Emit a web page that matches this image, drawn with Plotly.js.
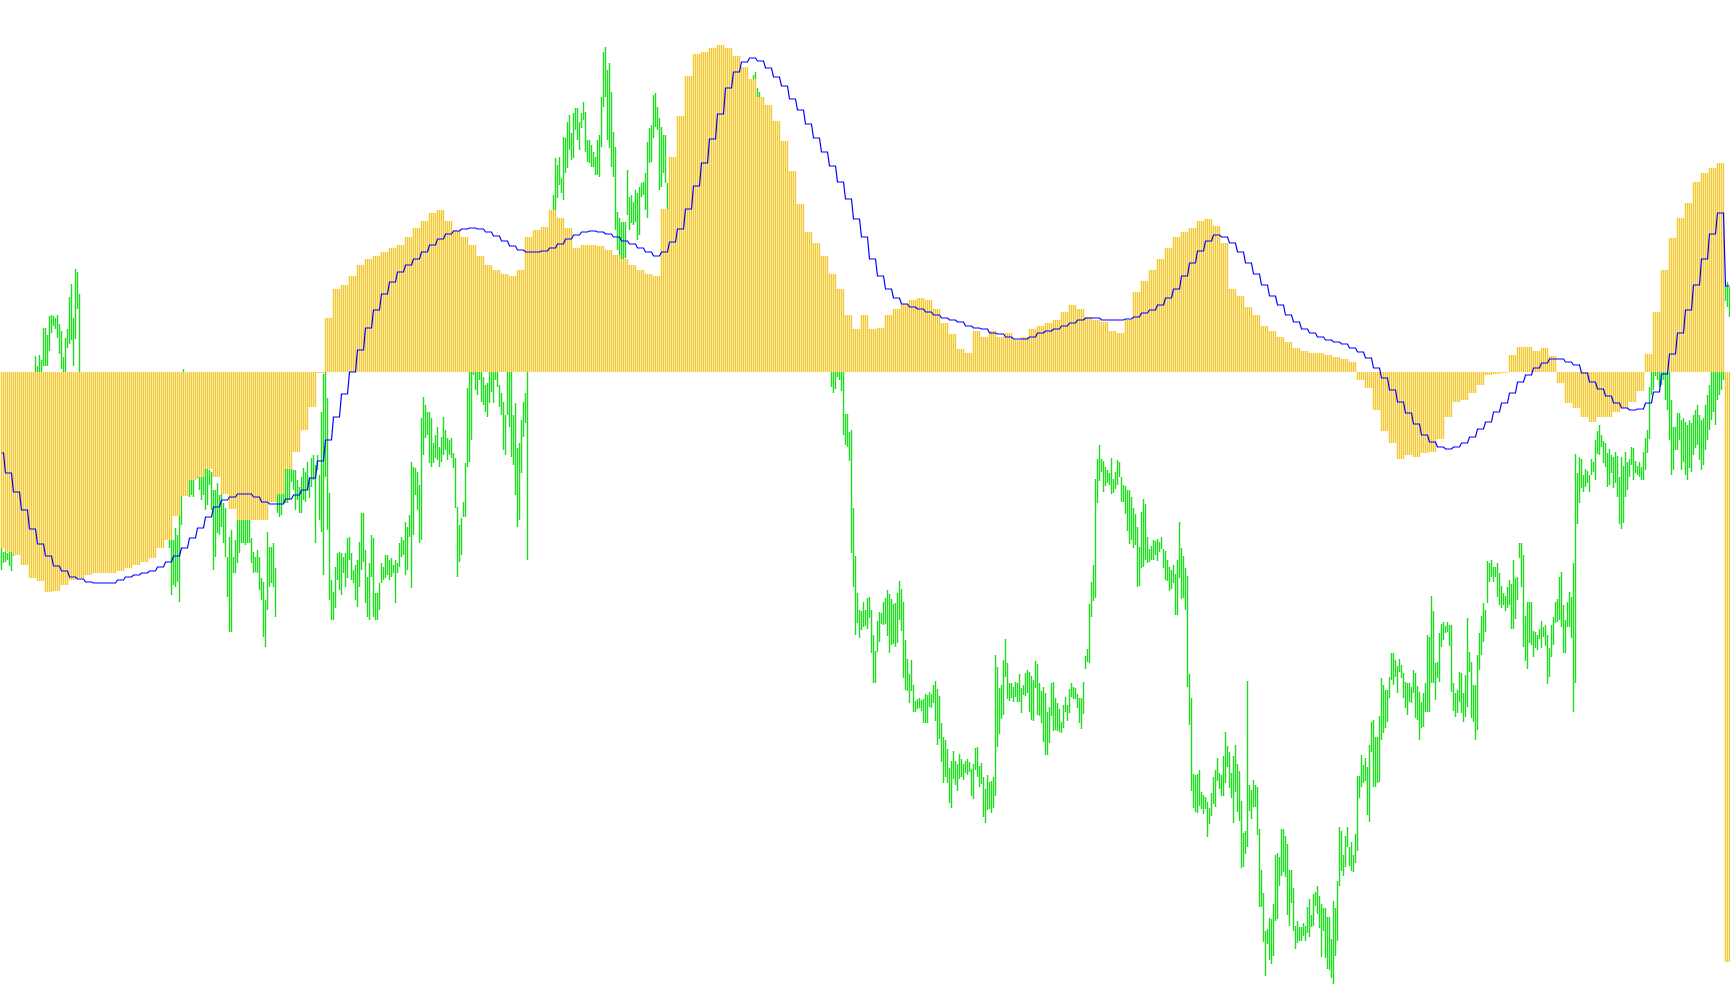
<!DOCTYPE html>
<html>
<head>
<meta charset="utf-8">
<script src="https://cdn.plot.ly/plotly-3.0.1.min.js"></script>
<style>html,body{margin:0;padding:0;background:#fff;}#chart{width:1730px;height:1005px;}</style>
</head>
<body>
<div id="chart"></div>
<script>
// Indicator computed on a 4x higher timeframe: one value per group of 4 bars.
// Group g covers bars 4g-2 .. 4g+1 (first group holds bars 0-1).
const BARS_PER_GROUP = 4;
const histGroups = [
-176,-180,-183,-193,-206,-209,-220,-219,-213,-208,
-206,-203,-201,-201,-201,-199,-196,-193,-190,-186,
-176,-168,-144,-124,-108,-105,-97,-105,-122,-137,
-148,-148,-148,-148,-130,-122,-97,-80,-58,-35,
-1,54,83,87,96,107,113,116,120,124,
127,135,144,151,159,162,151,142,135,127,
116,107,102,98,96,102,135,142,145,162,
154,144,124,127,127,126,122,117,113,107,
102,98,96,163,215,256,296,318,320,324,
327,324,316,305,293,275,267,251,231,201,
168,140,129,116,98,83,57,43,57,43,
44,57,63,68,72,74,72,63,49,38,
23,19,41,35,41,35,39,32,35,43,
46,49,52,60,67,63,55,52,50,41,
39,52,80,91,102,113,124,135,140,144,
151,153,146,129,83,76,65,57,46,41,
35,30,24,21,19,19,17,15,13,10,
-8,-16,-38,-59,-71,-87,-83,-85,-81,-80,
-67,-45,-30,-28,-21,-13,-3,-2,-1,17,
25,25,21,24,16,-11,-31,-36,-45,-50,
-45,-45,-40,-36,-30,-19,18,60,102,134,
154,169,190,199,204,209,-590
];
const signalGroups = [
-81,-101,-120,-138,-157,-172,-184,-194,-199,-205,
-207,-210,-211,-211,-211,-208,-205,-203,-201,-199,
-195,-190,-184,-176,-166,-156,-145,-135,-128,-125,
-122,-122,-125,-130,-132,-132,-127,-123,-118,-106,
-89,-68,-45,-22,0,22,44,62,78,90,
100,107,113,120,127,133,138,141,143,144,
143,140,136,131,126,122,120,120,121,124,
128,133,137,140,141,140,138,135,131,128,
124,120,116,120,130,143,163,186,209,233,
258,284,300,310,314,311,304,295,286,273,
262,248,234,220,206,190,173,153,135,113,
96,83,74,68,65,63,60,57,54,52,
50,46,44,43,39,38,35,33,33,35,
39,41,43,46,49,52,54,54,52,52,
52,53,55,59,62,67,74,83,96,109,
121,131,137,135,129,120,109,98,87,76,
67,57,50,43,39,35,32,30,28,24,
20,14,4,-6,-18,-30,-41,-52,-63,-70,
-75,-77,-75,-71,-65,-57,-50,-40,-31,-21,
-10,-3,4,9,13,13,10,7,-1,-10,
-17,-24,-31,-36,-38,-37,-31,-20,-2,18,
39,62,87,113,138,159,86
];
// Price bars (high / low), one per bar
const priceHigh = [
457,448,449,447,448,448,480,495,505,520,
530,545,560,575,590,605,620,644,634,645,
640,672,672,665,684,685,684,682,685,676,
669,643,662,671,703,716,682,731,728,706,
625,615,610,600,605,595,590,580,585,575,
570,560,565,555,550,545,552,540,535,530,
538,530,522,515,520,512,508,502,505,500,
495,490,495,488,485,480,485,482,488,492,
490,485,495,500,470,472,460,472,465,503,
504,631,580,570,530,525,530,550,540,535,
540,530,545,535,530,528,510,510,517,505,
507,497,492,443,463,470,443,460,490,495,
492,488,490,485,482,462,448,443,450,443,
422,418,400,468,453,453,457,432,515,512,
518,518,537,532,537,533,530,530,520,513,
523,532,528,538,523,542,545,535,545,525,
588,626,660,602,507,420,408,433,447,448,
447,443,447,462,463,447,430,435,440,458,
487,487,450,423,437,465,462,407,407,417,
437,433,445,445,440,442,435,440,437,457,
463,460,478,473,485,538,533,532,528,515,
582,603,595,588,588,582,557,565,573,553,
563,583,570,562,560,562,547,542,493,475,
482,498,537,612,650,655,660,655,665,660,
662,623,615,617,640,645,650,655,650,615,
607,598,585,645,650,655,585,597,552,557,
580,598,607,670,700,715,730,740,745,750,
755,760,765,768,770,770,805,842,835,843,
822,863,862,878,885,867,887,892,892,878,
887,898,888,860,860,855,848,843,860,865,
903,948,953,930,937,908,868,853,788,782,
778,778,778,830,803,805,798,810,807,813,
817,818,827,858,872,875,905,907,893,882,
873,865,865,817,825,830,835,838,850,860,
870,875,880,890,900,905,910,915,920,922,
925,928,930,932,935,938,940,942,940,938,
942,945,940,935,938,934,930,932,928,925,
922,920,918,915,912,916,925,928,912,908,
900,895,890,880,875,870,865,860,850,845,
840,830,825,815,810,800,795,785,780,775,
765,760,755,750,742,738,735,730,728,722,
720,715,710,705,700,670,665,660,655,650,
648,640,586,586,568,570,492,444,407,390,
389,398,390,402,403,390,365,349,379,388,
387,398,402,410,406,401,396,397,407,419,
411,398,360,341,326,340,315,299,301,302,
300,301,306,305,308,306,315,319,311,304,
277,263,260,251,232,239,249,239,236,246,
241,236,239,241,238,231,236,252,253,234,
237,223,211,225,218,219,223,345,333,312,
315,340,361,337,317,317,313,318,317,326,
312,315,327,330,328,324,320,339,336,317,
309,313,307,288,293,317,318,302,297,291,
278,295,303,295,311,317,313,312,306,302,
302,318,344,351,396,418,435,521,541,555,
541,539,533,530,527,542,521,528,540,538,
523,515,514,510,510,503,492,486,473,453,
488,501,496,463,451,454,460,459,461,458,
463,451,449,440,433,430,435,426,440,478,
452,444,432,424,326,302,226,225,226,230,
208,205,203,198,192,207,223,230,242,227,
225,244,268,254,248,227,244,255,236,229,
199,167,169,319,215,210,220,215,213,171,
130,107,69,71,82,81,96,145,147,143,
171,171,164,156,130,130,112,74,79,73,
73,77,74,93,101,85,106,108,114,104,
96,92,92,83,83,61,99,92,119,173,
169,145,164,173,153,158,145,166,224,224,
245,235,242,233,255,278,280,263,263,284,
322,315,310,310,323,347,347,340,334,341,
335,327,318,317,317,313,330,327,314,308,
298,307,317,365,363,404,389,337,338,367,
376,378,374,378,375,375,317,307,310,328,
327,307,325,382,348,338,315,315,345,367,
384,397,390,439,437,440,433,433,437,427,
414,407,404,413,420,416,440,422,423,457,
457,445,384,398,398,398,369,368,365,371,
379,373,375,365,352,375,383,398,401,423,
428,395,380,398,408,403,437,546,527,543,
541,525,531,529,525,541,538,560,569,575,
565,559,557,547,551,545,543,548,544,523,
543,534,548,538,541,553,552,539,534,538,
533,548,562,570,613,640,650,655,660,655,
670,680,670,655,640,600,573,573,587,587,
580,582,578,575,580,577,585,590,595,585,
580,582,595,605,615,640,650,645,660,670,
680,700,714,718,713
];
const priceLow = [
430,437,438,440,434,429,444,455,470,480,
485,500,510,530,545,560,580,615,605,610,
620,634,634,634,649,667,674,671,662,646,
631,620,622,652,656,660,634,661,691,620,
580,570,560,555,550,545,535,530,538,522,
515,510,518,505,500,495,502,490,485,480,
488,475,470,465,472,462,455,450,455,448,
445,440,445,438,445,444,455,454,460,462,
455,454,462,464,452,405,415,413,418,398,
475,520,510,508,503,505,503,522,522,510,
500,505,490,495,515,490,430,443,467,465,
473,457,443,403,368,368,427,427,437,447,
457,457,455,457,457,437,427,428,427,410,
400,363,353,390,413,417,413,383,487,483,
485,497,497,497,500,518,510,490,500,487,
487,500,498,510,502,513,520,457,530,480,
468,425,523,470,400,380,380,392,420,410,
405,427,413,422,440,420,417,400,393,413,
430,438,397,383,380,423,383,380,380,390,
417,420,422,425,420,423,427,397,427,433,
443,445,425,430,463,412,465,505,490,457,
460,545,562,565,537,533,537,542,540,533,
538,545,550,540,545,542,532,492,423,438,
445,483,483,533,538,560,625,610,605,620,
598,595,588,583,597,608,597,620,613,593,
585,550,545,585,573,543,535,505,473,480,
527,563,577,440,640,655,670,680,690,700,
710,715,720,730,738,745,760,775,802,815,
807,800,827,832,850,840,842,870,860,850,
872,880,848,838,837,833,833,825,825,823,
853,893,903,860,852,833,823,770,750,745,
740,738,742,785,770,777,775,778,760,765,
803,805,790,782,837,838,862,873,870,810,
813,827,817,790,770,780,785,795,800,810,
815,825,830,840,850,855,860,870,875,880,
885,890,895,900,905,900,902,905,900,895,
902,908,900,895,890,888,885,892,882,880,
875,870,865,860,860,865,870,875,860,850,
840,830,825,815,810,800,795,785,775,770,
765,755,750,740,735,730,720,710,705,700,
690,685,680,675,670,665,660,655,652,648,
645,640,638,634,630,613,607,611,623,620,
609,565,555,553,539,447,413,365,377,362,
370,373,374,371,382,347,317,317,348,358,
376,375,376,364,347,355,356,353,357,380,
369,322,310,309,297,309,288,288,291,292,
289,277,277,277,293,292,297,279,255,261,
238,217,223,217,197,192,221,215,209,221,
223,220,227,225,228,204,201,230,223,213,
216,183,177,190,191,187,192,204,253,266,
281,285,323,301,299,302,298,303,298,298,
287,305,304,307,288,280,279,312,285,284,
277,258,245,245,257,284,269,270,269,268,
267,272,288,279,287,303,301,301,292,277,
271,286,331,338,337,383,399,402,497,519,
528,508,514,517,515,506,507,511,515,523,
498,498,486,469,456,460,452,455,413,414,
432,433,440,437,438,440,440,445,439,448,
451,432,420,419,409,411,417,385,385,422,
401,402,390,313,275,209,192,188,187,194,
191,186,191,163,176,184,196,193,219,211,
204,204,217,233,212,202,177,208,188,179,
132,133,146,153,189,181,193,193,165,93,
93,58,24,56,40,36,44,79,81,114,
124,128,123,85,74,97,69,51,57,59,
59,64,59,67,63,73,74,94,86,72,
43,69,42,31,30,22,16,44,59,114,
129,124,133,153,134,129,128,137,149,202,
213,217,219,185,178,248,213,213,217,218,
260,267,272,278,302,320,315,323,307,328,
322,302,292,285,298,297,307,282,280,260,
272,273,288,288,288,317,317,300,322,318,
353,360,367,368,354,308,289,283,287,298,
287,278,283,293,328,282,278,260,270,330,
345,358,368,397,418,423,418,423,403,395,
392,395,389,392,395,371,371,381,400,442,
413,353,339,331,357,355,343,352,350,361,
352,363,354,316,323,343,355,377,378,380,
373,347,347,373,373,362,288,317,476,497,
512,508,513,517,508,525,528,520,546,545,
553,537,533,513,515,527,512,517,503,476,
471,477,503,510,523,535,520,527,525,523,
520,520,530,547,561,605,610,624,620,613,
615,620,600,590,560,525,530,550,550,560,
530,538,525,520,532,528,545,552,555,540,
530,535,550,560,570,580,588,575,600,605,
610,620,699,693,683
];

// Axis ranges (price axis y, indicator axis y2 share the same pixel height)
const PRICE_RANGE = [-5, 1000];
const IND_RANGE = [-633, 372];
function indToPrice(v) {
  return PRICE_RANGE[0] + (v - IND_RANGE[0]) * (PRICE_RANGE[1] - PRICE_RANGE[0]) / (IND_RANGE[1] - IND_RANGE[0]);
}

const N = priceHigh.length;
const barX = [], barY = [], histX = [], histY = [], idx = [], signal = [];
for (let i = 0; i < N; i++) {
  const g = Math.floor((i + 2) / BARS_PER_GROUP);
  const h = histGroups[g];
  idx.push(i);
  signal.push(signalGroups[g]);
  histX.push(i, i, null);
  histY.push(0, h, null);
  // price bar, minus the part painted over by the histogram stick
  const lo = priceLow[i], hi = priceHigh[i];
  const a = indToPrice(Math.min(0, h)), b = indToPrice(Math.max(0, h));
  if (lo < a) { barX.push(i, i, null); barY.push(lo, Math.min(hi, a), null); }
  if (hi > b) { barX.push(i, i, null); barY.push(Math.max(lo, b), hi, null); }
}

const STICK = 1.4;
const traces = [
  {type:'scatter', mode:'lines', x: barX, y: barY, connectgaps:false,
   line:{color:'#1EDC1E', width:STICK}, hoverinfo:'skip', yaxis:'y'},
  {type:'scatter', mode:'lines', x: histX, y: histY, connectgaps:false,
   line:{color:'#F4C82A', width:STICK}, hoverinfo:'skip', yaxis:'y2'},
  {type:'scatter', mode:'lines', x: idx, y: signal,
   line:{color:'#0000FF', width:1.2}, hoverinfo:'skip', yaxis:'y2'}
];

const layout = {
  width: 1730, height: 1005,
  margin:{l:0, r:0, t:0, b:0, pad:0},
  paper_bgcolor:'#FFFFFF', plot_bgcolor:'#FFFFFF',
  showlegend:false,
  xaxis:{range:[-0.75, N - 0.75], visible:false, fixedrange:true},
  yaxis:{range:PRICE_RANGE, visible:false, fixedrange:true},
  yaxis2:{range:IND_RANGE, overlaying:'y', visible:false, fixedrange:true}
};

Plotly.newPlot('chart', traces, layout, {staticPlot:true, displayModeBar:false});
</script>
</body>
</html>
